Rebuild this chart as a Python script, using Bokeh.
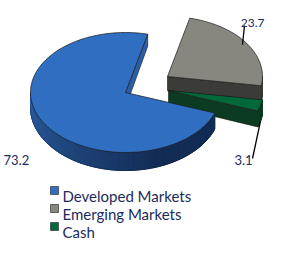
import numpy as np
from bokeh.plotting import figure
from bokeh.models import Range1d
from bokeh.core.properties import value
from bokeh.embed import file_html
from bokeh.resources import INLINE

# ---- data ----
categories = ["Developed Markets", "Emerging Markets", "Cash"]
values = [73.2, 23.7, 3.1]
labels = ["73.2", "23.7", "3.1"]

# ---- styles ----
top_colors = ["#2F6EC0", "#87877F", "#00693A"]
side_colors = ["#2A5FA6", "#3B3B37", "#0B3B20"]
rim_light = ["#2C5EA2", "#3B3B37", "#0B3B20"]
rim_dark = ["#132D55", "#3B3B37", "#0B3B20"]
explode = [(0.0, 0.0), (42.0, -16.0), (43.0, -2.0)]
label_pos = [(3, 159, "left", "13px"), (264, 22, "right", "12px"), (234, 159, "left", "13px")]
leader_end = [None, (244, 25), (252, 158)]
text_color = "#1B2A5C"
outline = "#1a1a1a"

CX, CY, RX, RY = 125.0, 92.0, 95.0, 60.0
D0, D1 = 15.0, 3.0
START = -20.0

p = figure(width=265, height=244, x_range=Range1d(0, 265), y_range=Range1d(244, 0),
           min_border=0, toolbar_location=None, output_backend="svg")
p.axis.visible = False
p.grid.visible = False
p.outline_line_color = None
p.background_fill_color = "white"
p.border_fill_color = "white"


def hex2rgb(h):
    h = h.lstrip("#")
    return np.array([int(h[i:i + 2], 16) for i in (0, 2, 4)], dtype=float)


def mix(c1, c2, t):
    a, b = hex2rgb(c1), hex2rgb(c2)
    c = a + (b - a) * t
    return "#%02x%02x%02x" % tuple(int(round(v)) for v in c)


def rim(ox, oy, th, r=1.0):
    return ox + r * RX * np.cos(th), oy - r * RY * np.sin(th)


def depth(y):
    return D0 + D1 * (y - CY) / RY


total = sum(values)
cum = np.concatenate([[0], np.cumsum(values)]) / total
order = [1, 2, 0]  # painter's order: back slices first

geo = {}
for i in range(len(values)):
    hi = np.radians(START - 360 * cum[i])
    lo = np.radians(START - 360 * cum[i + 1])
    ox, oy = CX + explode[i][0], CY + explode[i][1]
    geo[i] = (lo, hi, ox, oy)

for i in order:
    lo, hi, ox, oy = geo[i]
    # radial faces
    for edge, vis in ((lo, np.cos(lo) > 0), (hi, np.cos(hi) < 0)):
        if vis:
            rx_, ry_ = rim(ox, oy, edge)
            xs = [ox, rx_, rx_, ox]
            ys = [oy, ry_, ry_ + depth(ry_), oy + depth(oy)]
            p.patch(xs, ys, fill_color=side_colors[i], line_color=outline, line_width=0.6)
    # outer rim (front half)
    n = max(4, int(np.degrees(hi - lo) / 1.5))
    ths = np.linspace(lo, hi, n + 1)
    fr = np.array([th for th in ths if np.sin(th) <= 0.0])
    if len(fr) > 1:
        bx, by = rim(ox, oy, fr)
        p.patch(np.concatenate([bx, bx[::-1]]),
                np.concatenate([by, (by + depth(by))[::-1]]),
                fill_color=rim_dark[i], line_color=rim_dark[i], line_width=0.6)
    for a, b in zip(ths[:-1], ths[1:]):
        m = 0.5 * (a + b)
        if np.sin(m) < 0:
            deg = np.degrees(m) % 360
            t = float(np.clip((deg - 180) / 110.0, 0, 1))
            col = mix(rim_light[i], rim_dark[i], t)
            x1, y1 = rim(ox, oy, a)
            x2, y2 = rim(ox, oy, b)
            p.patch([x1, x2, x2, x1], [y1, y2, y2 + depth(y2), y1 + depth(y1)],
                    fill_color=col, line_color=col, line_width=1.0)
    if len(fr) > 1:
        p.line(bx, by + depth(by), line_color="#0d1a30", line_width=0.6, line_alpha=0.5)
    # top face
    tx, ty = rim(ox, oy, ths)
    p.patch(np.concatenate([[ox], tx]), np.concatenate([[oy], ty]),
            fill_color=top_colors[i], line_color=outline, line_width=0.7)

# leader lines
for i in range(len(values)):
    if leader_end[i] is None:
        continue
    lo, hi, ox, oy = geo[i]
    mid = 0.5 * (lo + hi)
    if np.sin(mid) > 0:
        sx, sy = rim(ox, oy, mid, 0.95)
    else:
        sx, sy = rim(ox, oy, mid)
        sy = sy + depth(sy)
    ex, ey = leader_end[i]
    p.line([sx, ex], [sy, ey], line_color="black", line_width=1.3)

# data labels
for i, lab in enumerate(labels):
    x, y, al, fs = label_pos[i]
    p.text(x=[x], y=[y], text=[lab], text_font=value("Lato"), text_font_size=fs,
           text_color=text_color, text_align=al, text_baseline="alphabetic")

# legend
leg_y = [190, 208, 226]
for i, cat in enumerate(categories):
    p.rect(x=[54], y=[leg_y[i]], width=8, height=8, fill_color=top_colors[i],
           line_color="#444444", line_width=0.8)
    p.text(x=[62], y=[leg_y[i] + 5], text=[cat], text_font=value("Lato"),
           text_font_size="15px", text_color=text_color, text_align="left",
           text_baseline="alphabetic")

open("out.html", "w").write(file_html(p, INLINE))
